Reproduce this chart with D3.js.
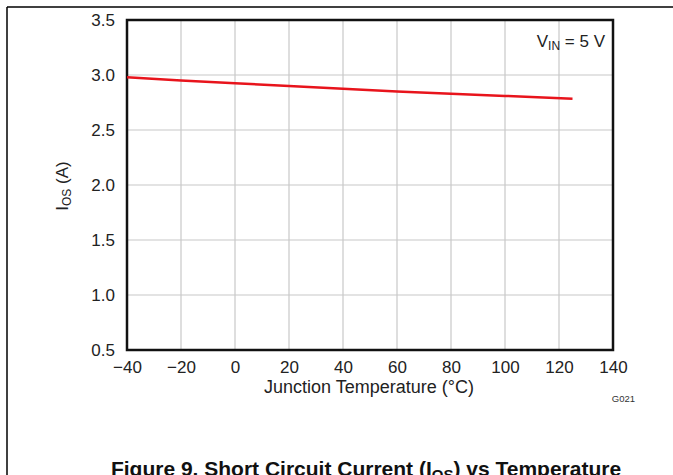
<!DOCTYPE html>
<html><head><meta charset="utf-8">
<script src="https://cdn.jsdelivr.net/npm/d3@7"></script>
<style>body{margin:0;background:#fff}svg{display:block;font-family:"Liberation Sans",Arial,sans-serif}</style>
</head><body>
<svg id="c" width="673" height="475"></svg>
<script>
const temps = [-40, -20, 0, 20, 40, 60, 80, 100, 125];
const ios = [2.98, 2.95, 2.925, 2.90, 2.875, 2.85, 2.83, 2.81, 2.785];
const xTicks = [-40, -20, 0, 20, 40, 60, 80, 100, 120, 140];
const yTicks = [0.5, 1.0, 1.5, 2.0, 2.5, 3.0, 3.5];

const svg = d3.select("#c");
const FF = "Liberation Sans, Arial, sans-serif";
const L = 127, R = 613, T = 20, B = 350;
const x = d3.scaleLinear().domain([-40, 140]).range([L, R]);
const y = d3.scaleLinear().domain([0.5, 3.5]).range([B, T]);

// frame lines
svg.append("line").attr("x1", 7).attr("x2", 673).attr("y1", 7).attr("y2", 7).attr("stroke", "#000").attr("stroke-width", 1.5);
svg.append("line").attr("x1", 7).attr("x2", 7).attr("y1", 7).attr("y2", 475).attr("stroke", "#000").attr("stroke-width", 1.5);

// grid
svg.append("g").selectAll("line").data(xTicks.slice(1, -1)).join("line")
  .attr("x1", d => x(d)).attr("x2", d => x(d)).attr("y1", T).attr("y2", B)
  .attr("stroke", "#c8c8c8").attr("stroke-width", 1.2);
svg.append("g").selectAll("line").data(yTicks.slice(1, -1)).join("line")
  .attr("y1", d => y(d)).attr("y2", d => y(d)).attr("x1", L).attr("x2", R)
  .attr("stroke", "#c8c8c8").attr("stroke-width", 1.2);

// axes with labels
const xa = svg.append("g").attr("transform", `translate(0,${B})`)
  .call(d3.axisBottom(x).tickValues(xTicks).tickSize(0).tickPadding(11).tickFormat(d => d < 0 ? "\u2212" + Math.abs(d) : d));
xa.select(".domain").remove();
xa.attr("font-size", 17).attr("font-family", FF);
xa.selectAll("text").attr("fill", "#222");
const ya = svg.append("g").attr("transform", `translate(${L},0)`)
  .call(d3.axisLeft(y).tickValues(yTicks).tickSize(0).tickPadding(12).tickFormat(d3.format(".1f")));
ya.select(".domain").remove();
ya.attr("font-size", 17).attr("font-family", FF);
ya.selectAll("text").attr("fill", "#222");

// border
svg.append("rect").attr("x", L).attr("y", T).attr("width", R - L).attr("height", B - T)
  .attr("fill", "none").attr("stroke", "#111").attr("stroke-width", 2.5);

// data line
const pts = temps.map((t, i) => [t, ios[i]]);
svg.append("path").datum(pts)
  .attr("d", d3.line().x(d => x(d[0])).y(d => y(d[1])))
  .attr("fill", "none").attr("stroke", "#e8141c").attr("stroke-width", 2.5);

// annotation
const vin = svg.append("text").attr("x", 605).attr("y", 47).attr("text-anchor", "end")
  .attr("font-size", 17).attr("fill", "#222");
vin.append("tspan").text("V");
vin.append("tspan").text("IN").attr("font-size", 12).attr("dy", 3);
vin.append("tspan").text(" = 5 V").attr("dy", -3);

// axis titles
svg.append("text").attr("x", 369).attr("y", 393).attr("text-anchor", "middle")
  .attr("font-size", 18).attr("fill", "#222").text("Junction Temperature (°C)");
const yl = svg.append("text").attr("transform", `translate(68,186) rotate(-90)`)
  .attr("text-anchor", "middle").attr("font-size", 17).attr("fill", "#222");
yl.append("tspan").text("I");
yl.append("tspan").text("OS").attr("font-size", 12).attr("dy", 3);
yl.append("tspan").text(" (A)").attr("dy", -3);

svg.append("text").attr("x", 635).attr("y", 402).attr("text-anchor", "end")
  .attr("font-size", 9.5).attr("fill", "#333").text("G021");

// caption
const cap = svg.append("text").attr("x", 366).attr("y", 476).attr("text-anchor", "middle")
  .attr("font-size", 21).attr("font-weight", "bold").attr("fill", "#111");
cap.append("tspan").text("Figure 9. Short Circuit Current (I");
cap.append("tspan").text("OS").attr("font-size", 15).attr("dy", 4);
cap.append("tspan").text(") vs Temperature").attr("dy", -4);
</script>
</body></html>
